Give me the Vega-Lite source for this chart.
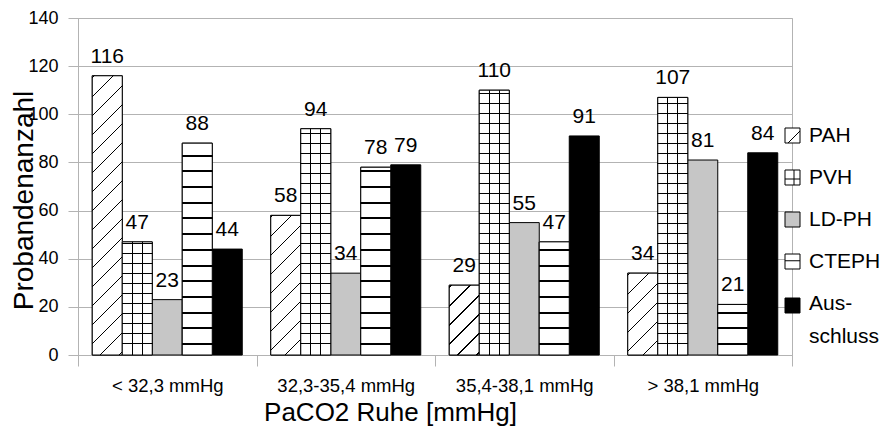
{
  "$schema": "https://vega.github.io/schema/vega-lite/v6.json",
  "width": 714,
  "height": 337,
  "autosize": {"type": "none"},
  "padding": {"left": 78, "top": 18, "right": 104, "bottom": 73},
  "background": "white",
  "config": {
    "font": "Liberation Sans",
    "view": {"stroke": "#b3b3b3"}
  },
  "data": {
    "values": [
      {"g": "< 32,3 mmHg", "s": "PAH", "n": 116},
      {"g": "< 32,3 mmHg", "s": "PVH", "n": 47},
      {"g": "< 32,3 mmHg", "s": "LD-PH", "n": 23},
      {"g": "< 32,3 mmHg", "s": "CTEPH", "n": 88},
      {"g": "< 32,3 mmHg", "s": "Ausschluss", "n": 44},
      {"g": "32,3-35,4 mmHg", "s": "PAH", "n": 58},
      {"g": "32,3-35,4 mmHg", "s": "PVH", "n": 94},
      {"g": "32,3-35,4 mmHg", "s": "LD-PH", "n": 34},
      {"g": "32,3-35,4 mmHg", "s": "CTEPH", "n": 78},
      {"g": "32,3-35,4 mmHg", "s": "Ausschluss", "n": 79},
      {"g": "35,4-38,1 mmHg", "s": "PAH", "n": 29},
      {"g": "35,4-38,1 mmHg", "s": "PVH", "n": 110},
      {"g": "35,4-38,1 mmHg", "s": "LD-PH", "n": 55},
      {"g": "35,4-38,1 mmHg", "s": "CTEPH", "n": 47},
      {"g": "35,4-38,1 mmHg", "s": "Ausschluss", "n": 91},
      {"g": "> 38,1 mmHg", "s": "PAH", "n": 34},
      {"g": "> 38,1 mmHg", "s": "PVH", "n": 107},
      {"g": "> 38,1 mmHg", "s": "LD-PH", "n": 81},
      {"g": "> 38,1 mmHg", "s": "CTEPH", "n": 21},
      {"g": "> 38,1 mmHg", "s": "Ausschluss", "n": 84}
    ]
  },
  "encoding": {
    "x": {
      "field": "g",
      "type": "nominal",
      "sort": ["< 32,3 mmHg", "32,3-35,4 mmHg", "35,4-38,1 mmHg", "> 38,1 mmHg"],
      "scale": {"paddingInner": 0, "paddingOuter": 0},
      "axis": {
        "title": "PaCO2 Ruhe [mmHg]",
        "titleFontSize": 26,
        "titleFontWeight": "normal",
        "titleColor": "black",
        "titleX": 312,
        "titleY": 65,
        "titleAlign": "center",
        "titleBaseline": "alphabetic",
        "labelFontSize": 18.5,
        "labelColor": "black",
        "labelBaseline": "alphabetic",
        "labelPadding": 25,
        "labelAngle": 0,
        "tickBand": "extent",
        "tickSize": 11,
        "tickColor": "#b3b3b3",
        "domainColor": "#b3b3b3",
        "grid": false
      }
    },
    "xOffset": {
      "field": "s",
      "type": "nominal",
      "scale": {"domain": ["PAH", "PVH", "LD-PH", "CTEPH", "Ausschluss"], "paddingInner": 0, "paddingOuter": 0.475}
    },
    "y": {
      "field": "n",
      "type": "quantitative",
      "scale": {"domain": [0, 140], "nice": false},
      "axis": {
        "title": "Probandenanzahl",
        "titleFontSize": 28,
        "titleFontWeight": "normal",
        "titleColor": "black",
        "titleX": -46,
        "titleY": 182,
        "titleAngle": 270,
        "titleAlign": "center",
        "titleBaseline": "alphabetic",
        "values": [0, 20, 40, 60, 80, 100, 120, 140],
        "labelFontSize": 18,
        "labelColor": "black",
        "labelPadding": 10,
        "tickSize": 10,
        "tickColor": "#b3b3b3",
        "domainColor": "#b3b3b3",
        "grid": true,
        "gridColor": "#b3b3b3"
      }
    }
  },
  "layer": [
    {
      "mark": {"type": "bar", "stroke": "black", "strokeWidth": 1},
      "encoding": {
        "color": {
          "field": "s",
          "type": "nominal",
          "scale": {"domain": ["PAH", "PVH", "LD-PH", "CTEPH", "Ausschluss"], "range": ["white", "white", "#c6c6c6", "white", "black"]},
          "legend": {
            "title": null,
            "orient": "none",
            "direction": "vertical",
            "legendX": 704,
            "legendY": 107,
            "padding": 0,
            "symbolSize": 225,
            "symbolType": "square",
            "symbolStrokeColor": "black",
            "symbolStrokeWidth": 1,
            "labelFontSize": 21,
            "labelColor": "black",
            "labelOffset": 6,
            "rowPadding": 20,
            "labelExpr": "datum.label == 'Ausschluss' ? ['Aus-','schluss'] : datum.label",
            "encode": {
              "symbols": {
                "update": {
                  "shape": {"signal": "datum.value == 'PAH' ? 'M-1,-1H1V1H-1Z M-0.6,1L1,-0.6' : datum.value == 'PVH' ? 'M-1,-1H1V1H-1Z M-1,0.2H1 M0.2,-1V1' : datum.value == 'CTEPH' ? 'M-1,-1H1V1H-1Z M-1,-0.1H1' : 'square'"}
                }
              },
              "labels": {
                "update": {
                  "lineHeight": {"value": 33},
                  "dy": {"signal": "datum.value == 'Ausschluss' ? -2 : 0"}
                }
              }
            }
          }
        }
      }
    },
    {
      "transform": [{"filter": "datum.s == 'PAH'"}],
      "mark": {
        "type": "bar",
        "stroke": "black",
        "strokeWidth": 1,
        "fill": {"expr": "{gradient:'linear',x1:0,y1:0,x2:1,y2:datum.n*0.080238,stops:[{offset:0.04333/(1+pow(datum.n*0.080238,2)),color:'#fff'},{offset:0.04333/(1+pow(datum.n*0.080238,2)),color:'#000'},{offset:0.09/(1+pow(datum.n*0.080238,2)),color:'#000'},{offset:0.09/(1+pow(datum.n*0.080238,2)),color:'#fff'},{offset:0.67667/(1+pow(datum.n*0.080238,2)),color:'#fff'},{offset:0.67667/(1+pow(datum.n*0.080238,2)),color:'#000'},{offset:0.72333/(1+pow(datum.n*0.080238,2)),color:'#000'},{offset:0.72333/(1+pow(datum.n*0.080238,2)),color:'#fff'},{offset:1.31/(1+pow(datum.n*0.080238,2)),color:'#fff'},{offset:1.31/(1+pow(datum.n*0.080238,2)),color:'#000'},{offset:1.35667/(1+pow(datum.n*0.080238,2)),color:'#000'},{offset:1.35667/(1+pow(datum.n*0.080238,2)),color:'#fff'},{offset:1.94333/(1+pow(datum.n*0.080238,2)),color:'#fff'},{offset:1.94333/(1+pow(datum.n*0.080238,2)),color:'#000'},{offset:1.99/(1+pow(datum.n*0.080238,2)),color:'#000'},{offset:1.99/(1+pow(datum.n*0.080238,2)),color:'#fff'},{offset:2.57667/(1+pow(datum.n*0.080238,2)),color:'#fff'},{offset:2.57667/(1+pow(datum.n*0.080238,2)),color:'#000'},{offset:2.62333/(1+pow(datum.n*0.080238,2)),color:'#000'},{offset:2.62333/(1+pow(datum.n*0.080238,2)),color:'#fff'},{offset:3.21/(1+pow(datum.n*0.080238,2)),color:'#fff'},{offset:3.21/(1+pow(datum.n*0.080238,2)),color:'#000'},{offset:3.25667/(1+pow(datum.n*0.080238,2)),color:'#000'},{offset:3.25667/(1+pow(datum.n*0.080238,2)),color:'#fff'},{offset:3.84333/(1+pow(datum.n*0.080238,2)),color:'#fff'},{offset:3.84333/(1+pow(datum.n*0.080238,2)),color:'#000'},{offset:3.89/(1+pow(datum.n*0.080238,2)),color:'#000'},{offset:3.89/(1+pow(datum.n*0.080238,2)),color:'#fff'},{offset:4.47667/(1+pow(datum.n*0.080238,2)),color:'#fff'},{offset:4.47667/(1+pow(datum.n*0.080238,2)),color:'#000'},{offset:4.52333/(1+pow(datum.n*0.080238,2)),color:'#000'},{offset:4.52333/(1+pow(datum.n*0.080238,2)),color:'#fff'},{offset:5.11/(1+pow(datum.n*0.080238,2)),color:'#fff'},{offset:5.11/(1+pow(datum.n*0.080238,2)),color:'#000'},{offset:5.15667/(1+pow(datum.n*0.080238,2)),color:'#000'},{offset:5.15667/(1+pow(datum.n*0.080238,2)),color:'#fff'},{offset:5.74333/(1+pow(datum.n*0.080238,2)),color:'#fff'},{offset:5.74333/(1+pow(datum.n*0.080238,2)),color:'#000'},{offset:5.79/(1+pow(datum.n*0.080238,2)),color:'#000'},{offset:5.79/(1+pow(datum.n*0.080238,2)),color:'#fff'},{offset:6.37667/(1+pow(datum.n*0.080238,2)),color:'#fff'},{offset:6.37667/(1+pow(datum.n*0.080238,2)),color:'#000'},{offset:6.42333/(1+pow(datum.n*0.080238,2)),color:'#000'},{offset:6.42333/(1+pow(datum.n*0.080238,2)),color:'#fff'},{offset:7.01/(1+pow(datum.n*0.080238,2)),color:'#fff'},{offset:7.01/(1+pow(datum.n*0.080238,2)),color:'#000'},{offset:7.05667/(1+pow(datum.n*0.080238,2)),color:'#000'},{offset:7.05667/(1+pow(datum.n*0.080238,2)),color:'#fff'},{offset:7.64333/(1+pow(datum.n*0.080238,2)),color:'#fff'},{offset:7.64333/(1+pow(datum.n*0.080238,2)),color:'#000'},{offset:7.69/(1+pow(datum.n*0.080238,2)),color:'#000'},{offset:7.69/(1+pow(datum.n*0.080238,2)),color:'#fff'},{offset:8.27667/(1+pow(datum.n*0.080238,2)),color:'#fff'},{offset:8.27667/(1+pow(datum.n*0.080238,2)),color:'#000'},{offset:8.32333/(1+pow(datum.n*0.080238,2)),color:'#000'},{offset:8.32333/(1+pow(datum.n*0.080238,2)),color:'#fff'},{offset:8.91/(1+pow(datum.n*0.080238,2)),color:'#fff'},{offset:8.91/(1+pow(datum.n*0.080238,2)),color:'#000'},{offset:8.95667/(1+pow(datum.n*0.080238,2)),color:'#000'},{offset:8.95667/(1+pow(datum.n*0.080238,2)),color:'#fff'},{offset:9.54333/(1+pow(datum.n*0.080238,2)),color:'#fff'},{offset:9.54333/(1+pow(datum.n*0.080238,2)),color:'#000'},{offset:9.59/(1+pow(datum.n*0.080238,2)),color:'#000'},{offset:9.59/(1+pow(datum.n*0.080238,2)),color:'#fff'},{offset:10.17667/(1+pow(datum.n*0.080238,2)),color:'#fff'},{offset:10.17667/(1+pow(datum.n*0.080238,2)),color:'#000'},{offset:10.22333/(1+pow(datum.n*0.080238,2)),color:'#000'},{offset:10.22333/(1+pow(datum.n*0.080238,2)),color:'#fff'}]}"}
      }
    },
    {
      "transform": [{"filter": "datum.s == 'PVH'"}],
      "mark": {
        "type": "bar",
        "stroke": "black",
        "strokeWidth": 1,
        "fill": {"expr": "{gradient:'linear',x1:0,y1:1,x2:0,y2:0,stops:[{offset:4.5697/datum.n,color:'#fff'},{offset:4.5697/datum.n,color:'#000'},{offset:4.9852/datum.n,color:'#000'},{offset:4.9852/datum.n,color:'#fff'},{offset:8.7240/datum.n,color:'#fff'},{offset:8.7240/datum.n,color:'#000'},{offset:9.1395/datum.n,color:'#000'},{offset:9.1395/datum.n,color:'#fff'},{offset:12.8783/datum.n,color:'#fff'},{offset:12.8783/datum.n,color:'#000'},{offset:13.2938/datum.n,color:'#000'},{offset:13.2938/datum.n,color:'#fff'},{offset:17.0326/datum.n,color:'#fff'},{offset:17.0326/datum.n,color:'#000'},{offset:17.4481/datum.n,color:'#000'},{offset:17.4481/datum.n,color:'#fff'},{offset:21.1869/datum.n,color:'#fff'},{offset:21.1869/datum.n,color:'#000'},{offset:21.6024/datum.n,color:'#000'},{offset:21.6024/datum.n,color:'#fff'},{offset:25.3412/datum.n,color:'#fff'},{offset:25.3412/datum.n,color:'#000'},{offset:25.7567/datum.n,color:'#000'},{offset:25.7567/datum.n,color:'#fff'},{offset:29.4955/datum.n,color:'#fff'},{offset:29.4955/datum.n,color:'#000'},{offset:29.9110/datum.n,color:'#000'},{offset:29.9110/datum.n,color:'#fff'},{offset:33.6498/datum.n,color:'#fff'},{offset:33.6498/datum.n,color:'#000'},{offset:34.0653/datum.n,color:'#000'},{offset:34.0653/datum.n,color:'#fff'},{offset:37.8041/datum.n,color:'#fff'},{offset:37.8041/datum.n,color:'#000'},{offset:38.2196/datum.n,color:'#000'},{offset:38.2196/datum.n,color:'#fff'},{offset:41.9584/datum.n,color:'#fff'},{offset:41.9584/datum.n,color:'#000'},{offset:42.3739/datum.n,color:'#000'},{offset:42.3739/datum.n,color:'#fff'},{offset:46.1127/datum.n,color:'#fff'},{offset:46.1127/datum.n,color:'#000'},{offset:46.5282/datum.n,color:'#000'},{offset:46.5282/datum.n,color:'#fff'},{offset:50.2670/datum.n,color:'#fff'},{offset:50.2670/datum.n,color:'#000'},{offset:50.6825/datum.n,color:'#000'},{offset:50.6825/datum.n,color:'#fff'},{offset:54.4213/datum.n,color:'#fff'},{offset:54.4213/datum.n,color:'#000'},{offset:54.8368/datum.n,color:'#000'},{offset:54.8368/datum.n,color:'#fff'},{offset:58.5756/datum.n,color:'#fff'},{offset:58.5756/datum.n,color:'#000'},{offset:58.9911/datum.n,color:'#000'},{offset:58.9911/datum.n,color:'#fff'},{offset:62.7299/datum.n,color:'#fff'},{offset:62.7299/datum.n,color:'#000'},{offset:63.1454/datum.n,color:'#000'},{offset:63.1454/datum.n,color:'#fff'},{offset:66.8842/datum.n,color:'#fff'},{offset:66.8842/datum.n,color:'#000'},{offset:67.2997/datum.n,color:'#000'},{offset:67.2997/datum.n,color:'#fff'},{offset:71.0385/datum.n,color:'#fff'},{offset:71.0385/datum.n,color:'#000'},{offset:71.4540/datum.n,color:'#000'},{offset:71.4540/datum.n,color:'#fff'},{offset:75.1928/datum.n,color:'#fff'},{offset:75.1928/datum.n,color:'#000'},{offset:75.6083/datum.n,color:'#000'},{offset:75.6083/datum.n,color:'#fff'},{offset:79.3471/datum.n,color:'#fff'},{offset:79.3471/datum.n,color:'#000'},{offset:79.7626/datum.n,color:'#000'},{offset:79.7626/datum.n,color:'#fff'},{offset:83.5014/datum.n,color:'#fff'},{offset:83.5014/datum.n,color:'#000'},{offset:83.9169/datum.n,color:'#000'},{offset:83.9169/datum.n,color:'#fff'},{offset:87.6557/datum.n,color:'#fff'},{offset:87.6557/datum.n,color:'#000'},{offset:88.0712/datum.n,color:'#000'},{offset:88.0712/datum.n,color:'#fff'},{offset:91.8100/datum.n,color:'#fff'},{offset:91.8100/datum.n,color:'#000'},{offset:92.2255/datum.n,color:'#000'},{offset:92.2255/datum.n,color:'#fff'},{offset:95.9643/datum.n,color:'#fff'},{offset:95.9643/datum.n,color:'#000'},{offset:96.3798/datum.n,color:'#000'},{offset:96.3798/datum.n,color:'#fff'},{offset:100.1186/datum.n,color:'#fff'},{offset:100.1186/datum.n,color:'#000'},{offset:100.5341/datum.n,color:'#000'},{offset:100.5341/datum.n,color:'#fff'},{offset:104.2729/datum.n,color:'#fff'},{offset:104.2729/datum.n,color:'#000'},{offset:104.6884/datum.n,color:'#000'},{offset:104.6884/datum.n,color:'#fff'},{offset:108.4272/datum.n,color:'#fff'},{offset:108.4272/datum.n,color:'#000'},{offset:108.8427/datum.n,color:'#000'},{offset:108.8427/datum.n,color:'#fff'}]}"}
      }
    },
    {
      "transform": [{"filter": "datum.s == 'PVH'"}],
      "mark": {
        "type": "bar",
        "fill": {
          "gradient": "linear",
          "x1": 0, "y1": 0, "x2": 1, "y2": 0,
          "stops": [
            {"offset": 0.3167, "color": "transparent"},
            {"offset": 0.3167, "color": "black"},
            {"offset": 0.35, "color": "black"},
            {"offset": 0.35, "color": "transparent"},
            {"offset": 0.65, "color": "transparent"},
            {"offset": 0.65, "color": "black"},
            {"offset": 0.6833, "color": "black"},
            {"offset": 0.6833, "color": "transparent"}
          ]
        }
      }
    },
    {
      "transform": [{"filter": "datum.s == 'CTEPH'"}],
      "mark": {
        "type": "bar",
        "stroke": "black",
        "strokeWidth": 1,
        "fill": {"expr": "{gradient:'linear',x1:0,y1:1,x2:0,y2:0,stops:[{offset:4.1543/datum.n,color:'#fff'},{offset:4.1543/datum.n,color:'#000'},{offset:4.9852/datum.n,color:'#000'},{offset:4.9852/datum.n,color:'#fff'},{offset:10.8012/datum.n,color:'#fff'},{offset:10.8012/datum.n,color:'#000'},{offset:11.6320/datum.n,color:'#000'},{offset:11.6320/datum.n,color:'#fff'},{offset:17.0326/datum.n,color:'#fff'},{offset:17.0326/datum.n,color:'#000'},{offset:17.8635/datum.n,color:'#000'},{offset:17.8635/datum.n,color:'#fff'},{offset:23.6795/datum.n,color:'#fff'},{offset:23.6795/datum.n,color:'#000'},{offset:24.5104/datum.n,color:'#000'},{offset:24.5104/datum.n,color:'#fff'},{offset:30.3264/datum.n,color:'#fff'},{offset:30.3264/datum.n,color:'#000'},{offset:31.1573/datum.n,color:'#000'},{offset:31.1573/datum.n,color:'#fff'},{offset:36.5578/datum.n,color:'#fff'},{offset:36.5578/datum.n,color:'#000'},{offset:37.3887/datum.n,color:'#000'},{offset:37.3887/datum.n,color:'#fff'},{offset:43.2047/datum.n,color:'#fff'},{offset:43.2047/datum.n,color:'#000'},{offset:44.0356/datum.n,color:'#000'},{offset:44.0356/datum.n,color:'#fff'},{offset:49.8516/datum.n,color:'#fff'},{offset:49.8516/datum.n,color:'#000'},{offset:50.6825/datum.n,color:'#000'},{offset:50.6825/datum.n,color:'#fff'},{offset:56.4985/datum.n,color:'#fff'},{offset:56.4985/datum.n,color:'#000'},{offset:57.3293/datum.n,color:'#000'},{offset:57.3293/datum.n,color:'#fff'},{offset:62.7299/datum.n,color:'#fff'},{offset:62.7299/datum.n,color:'#000'},{offset:63.5608/datum.n,color:'#000'},{offset:63.5608/datum.n,color:'#fff'},{offset:69.3768/datum.n,color:'#fff'},{offset:69.3768/datum.n,color:'#000'},{offset:70.2077/datum.n,color:'#000'},{offset:70.2077/datum.n,color:'#fff'},{offset:76.0237/datum.n,color:'#fff'},{offset:76.0237/datum.n,color:'#000'},{offset:76.8546/datum.n,color:'#000'},{offset:76.8546/datum.n,color:'#fff'},{offset:82.2551/datum.n,color:'#fff'},{offset:82.2551/datum.n,color:'#000'},{offset:83.0860/datum.n,color:'#000'},{offset:83.0860/datum.n,color:'#fff'}]}"}
      }
    },
    {
      "mark": {"type": "text", "dy": -13, "baseline": "alphabetic", "align": "center", "fontSize": 21, "color": "black"},
      "encoding": {
        "text": {"field": "n", "type": "quantitative"}
      }
    }
  ]
}
